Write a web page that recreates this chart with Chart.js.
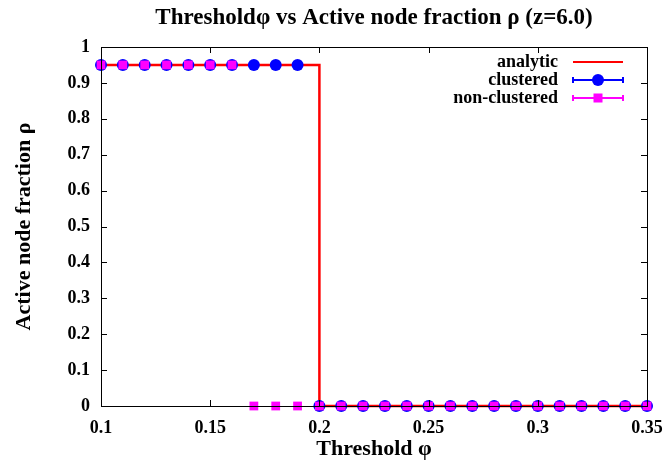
<!DOCTYPE html>
<html>
<head>
<meta charset="utf-8">
<script src="https://cdn.jsdelivr.net/npm/chart.js@4.4.1/dist/chart.umd.min.js"></script>
<style>
  html, body { margin: 0; padding: 0; background: #fff; }
  #wrap { width: 665px; height: 466px; }
</style>
</head>
<body>
<div id="wrap"><canvas id="thresholdChart" width="665" height="466"></canvas></div>
<script>
const phi = [0.10, 0.11, 0.12, 0.13, 0.14, 0.15, 0.16, 0.17, 0.18, 0.19, 0.20, 0.21, 0.22,
  0.23, 0.24, 0.25, 0.26, 0.27, 0.28, 0.29, 0.30, 0.31, 0.32, 0.33, 0.34, 0.35];
const clustered = [0.95, 0.95, 0.95, 0.95, 0.95, 0.95, 0.95, 0.95, 0.95, 0.95,
  0, 0, 0, 0, 0, 0, 0, 0, 0, 0, 0, 0, 0, 0, 0, 0];
const nonClustered = [0.95, 0.95, 0.95, 0.95, 0.95, 0.95, 0.95, 0, 0, 0,
  0, 0, 0, 0, 0, 0, 0, 0, 0, 0, 0, 0, 0, 0, 0, 0];
const analyticX = [0.10, 0.20, 0.20, 0.35];
const analyticY = [0.95, 0.95, 0, 0];
const seriesNames = ["analytic", "clustered", "non-clustered"];

const FONT = "'Liberation Serif', 'Times New Roman', serif";

const toPoints = (xs, ys) => xs.map((x, i) => ({ x, y: ys[i] }));

// gnuplot-like frame, inward ticks, title and legend
const framePlugin = {
  id: "frame",
  afterDraw(chart) {
    const { ctx, chartArea: a, scales } = chart;
    ctx.save();
    ctx.strokeStyle = "#000";
    ctx.lineWidth = 1;
    ctx.strokeRect(a.left + 0.5, a.top + 0.5, a.right - a.left, a.bottom - a.top);
    const len = 6;
    ctx.beginPath();
    scales.x.ticks.forEach(t => {
      const px = Math.round(scales.x.getPixelForValue(t.value)) + 0.5;
      ctx.moveTo(px, a.bottom); ctx.lineTo(px, a.bottom - len);
      ctx.moveTo(px, a.top); ctx.lineTo(px, a.top + len);
    });
    scales.y.ticks.forEach(t => {
      const py = Math.round(scales.y.getPixelForValue(t.value)) + 0.5;
      ctx.moveTo(a.left, py); ctx.lineTo(a.left + len, py);
      ctx.moveTo(a.right, py); ctx.lineTo(a.right - len, py);
    });
    ctx.stroke();

    // title centred over the plot
    ctx.fillStyle = "#000";
    ctx.font = "bold 23px " + FONT;
    ctx.textAlign = "center";
    ctx.textBaseline = "middle";
    ctx.fillText("Threshold\u03c6 vs Active node fraction \u03c1 (z=6.0)", (a.left + a.right) / 2, 18);

    // legend: text right-aligned, sample to the right
    const ds = chart.data.datasets;
    const textX = 558, x0 = 573, x1 = 623;
    ctx.font = "bold 18px " + FONT;
    ctx.textAlign = "right";
    seriesNames.forEach((name, i) => {
      const y = 62 + i * 18;
      const d = ds[i];
      ctx.fillStyle = "#000";
      ctx.fillText(name, textX, y);
      ctx.strokeStyle = d.borderColor;
      ctx.lineWidth = 2;
      ctx.beginPath();
      ctx.moveTo(x0, y); ctx.lineTo(x1, y);
      if (i > 0) {
        ctx.moveTo(x0, y - 3); ctx.lineTo(x0, y + 3);
        ctx.moveTo(x1, y - 3); ctx.lineTo(x1, y + 3);
      }
      ctx.stroke();
      if (i > 0) {
        ctx.fillStyle = d.pointBackgroundColor;
        const xm = (x0 + x1) / 2;
        if (d.pointStyle === "circle") {
          ctx.beginPath(); ctx.arc(xm, y, 6, 0, Math.PI * 2); ctx.fill();
        } else {
          ctx.fillRect(xm - 4.5, y - 4.5, 9, 9);
        }
      }
    });
    ctx.restore();
  }
};

const noOverhang = s => { s.paddingLeft = 0; s.paddingRight = 0; s.paddingTop = 0; s.paddingBottom = 0; };

new Chart(document.getElementById("thresholdChart").getContext("2d"), {
  type: "scatter",
  data: {
    datasets: [
      {
        label: seriesNames[0], data: toPoints(analyticX, analyticY), showLine: true,
        borderColor: "#ff0000", borderWidth: 2.5, pointRadius: 0, order: 3, clip: false
      },
      {
        label: seriesNames[1], data: toPoints(phi, clustered), showLine: false,
        borderColor: "#0000ff", pointStyle: "circle", pointRadius: 6, pointBorderWidth: 0,
        pointBackgroundColor: "#0000ff", order: 2, clip: false
      },
      {
        label: seriesNames[2], data: toPoints(phi, nonClustered), showLine: false,
        borderColor: "#ff00ff", pointStyle: "rect", pointRadius: 6.2, pointBorderWidth: 0,
        pointBackgroundColor: "#ff00ff", order: 1, clip: false
      }
    ]
  },
  options: {
    responsive: false,
    animation: false,
    layout: { padding: { top: 47, right: 18, left: 0, bottom: 0 } },
    plugins: { legend: { display: false }, title: { display: false }, tooltip: { enabled: false } },
    scales: {
      x: {
        type: "linear", min: 0.1, max: 0.35,
        afterFit: s => { s.height = 60; noOverhang(s); },
        grid: { display: false, drawTicks: false },
        border: { display: false },
        ticks: {
          stepSize: 0.05, padding: 12, color: "#000", maxRotation: 0,
          font: { family: FONT, size: 18, weight: "bold" },
          callback: v => String(+v.toFixed(2))
        },
        title: {
          display: true, text: "Threshold \u03c6", color: "#000",
          font: { family: FONT, size: 22, weight: "bold" }, padding: { top: 0, bottom: 3 }
        }
      },
      y: {
        type: "linear", min: 0, max: 1,
        afterFit: s => { s.width = 101; noOverhang(s); },
        grid: { display: false, drawTicks: false },
        border: { display: false },
        ticks: {
          stepSize: 0.1, padding: 11, color: "#000",
          font: { family: FONT, size: 18, weight: "bold" },
          callback: v => String(+v.toFixed(1))
        },
        title: {
          display: true, text: "Active node fraction \u03c1", color: "#000",
          font: { family: FONT, size: 22, weight: "bold" }, padding: { top: 11, bottom: 0 }
        }
      }
    }
  },
  plugins: [framePlugin]
});
</script>
</body>
</html>
